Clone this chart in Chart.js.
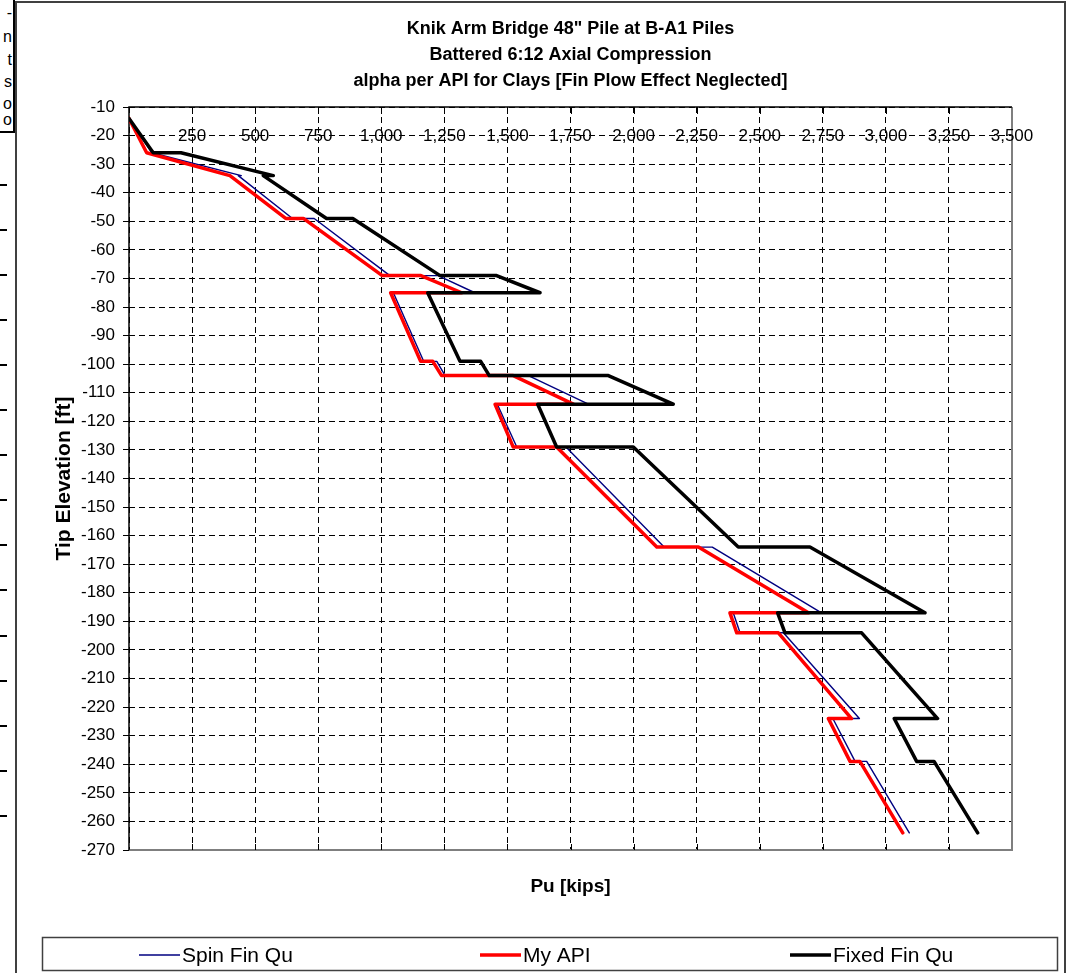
<!DOCTYPE html>
<html>
<head>
<meta charset="utf-8">
<title>Knik Arm Bridge 48" Pile at B-A1 Piles</title>
<script src="https://cdn.jsdelivr.net/npm/chart.js@4.4.1/dist/chart.umd.min.js"></script>
<style>
  html, body { margin: 0; padding: 0; background: #fff; width: 1074px; height: 973px; overflow: hidden; }
  body { position: relative; font-family: "Liberation Sans", Arial, sans-serif; }
  #frame { position: absolute; left: 15px; top: 1px; width: 1047px; height: 1000px; border: 2px solid #404040; }
  #side { position: absolute; left: -10px; top: -10px; width: 21px; height: 139px; border: 2px solid #000; }
  .sideTxt { position: absolute; left: 0; width: 12px; font-size: 16px; line-height: 16px; color: #000; text-align: right; }
  .sideTick { position: absolute; left: 0; width: 7px; height: 2px; background: #000; }
  canvas { position: absolute; left: 0; top: 0; }
</style>
</head>
<body>
<div id="frame"></div>
<div id="side"></div>
<div id="sideMarks"></div>
<canvas id="c" width="1074" height="973"></canvas>
<script>
// Pile capacity vs. tip elevation
const xTicks = [0, 250, 500, 750, 1000, 1250, 1500, 1750, 2000, 2250, 2500, 2750, 3000, 3250, 3500];
const yTicks = [-10, -20, -30, -40, -50, -60, -70, -80, -90, -100, -110, -120, -130, -140, -150, -160, -170, -180, -190, -200, -210, -220, -230, -240, -250, -260, -270];

const spinX = [0, 90, 445, 433, 648, 734, 1034, 1225, 1371, 1048, 1168, 1220, 1253, 1583, 1821, 1460, 1537, 1732, 2121, 2312, 2745, 2395, 2422, 2594, 2895, 2790, 2878, 2924, 3093];
const spinY = [-14, -26, -34, -34, -49, -49, -69, -69, -75, -75, -99, -99, -104, -104, -114, -114, -129, -129, -164, -164, -187, -187, -194, -194, -224, -224, -239, -239, -264];

const apiX = [0, 70, 400, 621, 691, 1004, 1157, 1319, 1037, 1156, 1204, 1239, 1523, 1761, 1451, 1523, 1695, 2092, 2257, 2693, 2382, 2409, 2574, 2864, 2772, 2858, 2897, 3067];
const apiY = [-14, -26, -34, -49, -49, -69, -69, -75, -75, -99, -99, -104, -104, -114, -114, -129, -129, -164, -164, -187, -187, -194, -194, -224, -224, -239, -239, -264];

const fixedX = [0, 96, 206, 572, 532, 783, 887, 1233, 1457, 1629, 1184, 1312, 1394, 1428, 1900, 2157, 1620, 1695, 1999, 2415, 2699, 3155, 2571, 2600, 2904, 3205, 3033, 3122, 3191, 3364];
const fixedY = [-14, -26, -26, -34, -34, -49, -49, -69, -69, -75, -75, -99, -99, -104, -104, -114, -114, -129, -129, -164, -164, -187, -187, -194, -194, -224, -224, -239, -239, -264];

const seriesNames = ['Spin Fin Qu', 'My API', 'Fixed Fin Qu'];
const titleLines = ['Knik Arm Bridge 48" Pile at B-A1 Piles', 'Battered 6:12 Axial Compression', 'alpha per API for Clays [Fin Plow Effect Neglected]'];
const xTitle = 'Pu [kips]';
const yTitle = 'Tip Elevation [ft]';

// fragments of the neighbouring panel on the left edge
const sideLetters = ['-', 'n', 't', 's', 'o', 'o'];

const FONT = '"Liberation Sans", Arial, sans-serif';

(function buildSide() {
  const holder = document.getElementById('sideMarks');
  const tops = [5, 29, 52, 74, 96, 112];
  sideLetters.forEach((ch, i) => {
    const d = document.createElement('div');
    d.className = 'sideTxt';
    d.style.top = tops[i] + 'px';
    d.textContent = ch;
    holder.appendChild(d);
  });
  for (let k = 0; k < 15; k++) {
    const t = document.createElement('div');
    t.className = 'sideTick';
    t.style.top = (184 + 45.05 * k) + 'px';
    holder.appendChild(t);
  }
})();

const pts = (xs, ys) => xs.map((x, i) => ({ x: x, y: ys[i] }));

const fmt = v => v.toLocaleString('en-US');

const decor = {
  id: 'decor',
  beforeDatasetsDraw(chart) {
    const { ctx, chartArea: a, scales: { x } } = chart;
    ctx.save();
    // plot area frame (right and bottom)
    ctx.strokeStyle = '#7f7f7f';
    ctx.lineWidth = 2;
    ctx.beginPath();
    ctx.moveTo(a.left, a.bottom);
    ctx.lineTo(a.right, a.bottom);
    ctx.lineTo(a.right, a.top);
    ctx.stroke();
    // axis lines, top and left
    ctx.strokeStyle = '#000';
    ctx.lineWidth = 1.5;
    ctx.beginPath();
    ctx.moveTo(a.left, a.bottom);
    ctx.lineTo(a.left, a.top);
    ctx.lineTo(a.right, a.top);
    ctx.stroke();
    // inner tick marks on the horizontal axis, top and bottom
    ctx.lineWidth = 1;
    ctx.beginPath();
    x.ticks.forEach(t => {
      if (t.value <= 0 || t.value >= 3500) return;
      const px = Math.round(x.getPixelForValue(t.value)) + 0.5;
      ctx.moveTo(px, a.top);
      ctx.lineTo(px, a.top + 7);
      ctx.moveTo(px, a.bottom);
      ctx.lineTo(px, a.bottom - 6);
    });
    ctx.stroke();
    ctx.restore();
  },
  afterDraw(chart) {
    const { ctx, chartArea: a, scales: { x } } = chart;
    ctx.save();
    ctx.fillStyle = '#000';

    // horizontal axis labels
    ctx.font = '17px ' + FONT;
    ctx.textAlign = 'center';
    ctx.textBaseline = 'alphabetic';
    x.ticks.forEach(t => {
      if (t.value <= 0) return;
      ctx.fillText(fmt(t.value), x.getPixelForValue(t.value), 141);
    });

    // chart title
    const cx = (a.left + a.right) / 2;
    ctx.font = 'bold 18px ' + FONT;
    titleLines.forEach((s, i) => ctx.fillText(s, cx, 34 + i * 26));

    // axis titles
    ctx.font = 'bold 19px ' + FONT;
    ctx.fillText(xTitle, cx, 892);
    ctx.save();
    ctx.font = 'bold 21px ' + FONT;
    ctx.translate(70, (a.top + a.bottom) / 2);
    ctx.rotate(-Math.PI / 2);
    ctx.fillText(yTitle, 0, 0);
    ctx.restore();

    // legend
    const L = { left: 42, top: 937, right: 1057, bottom: 970 };
    ctx.strokeStyle = '#404040';
    ctx.lineWidth = 1.5;
    ctx.strokeRect(L.left + 0.5, L.top + 0.5, L.right - L.left, L.bottom - L.top);
    const sx = [139, 480, 790];
    const ly = 955;
    ctx.font = '21px ' + FONT;
    ctx.textAlign = 'left';
    ctx.textBaseline = 'middle';
    chart.data.datasets.forEach((ds, i) => {
      ctx.strokeStyle = ds.borderColor;
      ctx.lineWidth = i === 0 ? 1.5 : 3.5;
      ctx.beginPath();
      ctx.moveTo(sx[i], ly);
      ctx.lineTo(sx[i] + 41, ly);
      ctx.stroke();
      ctx.fillText(ds.label, sx[i] + 43, ly + 1);
    });
    ctx.restore();
  }
};

new Chart(document.getElementById('c'), {
  type: 'scatter',
  data: {
    datasets: [
      { label: seriesNames[0], data: pts(spinX, spinY), showLine: true, borderColor: '#000080', backgroundColor: '#000080', borderWidth: 1.4, pointRadius: 0, order: 2 },
      { label: seriesNames[1], data: pts(apiX, apiY), showLine: true, borderColor: '#ff0000', backgroundColor: '#ff0000', borderWidth: 3.5, pointRadius: 0, order: 1 },
      { label: seriesNames[2], data: pts(fixedX, fixedY), showLine: true, borderColor: '#000000', backgroundColor: '#000000', borderWidth: 3.5, pointRadius: 0, order: 0 }
    ]
  },
  options: {
    responsive: false,
    animation: false,
    devicePixelRatio: 1,
    layout: { padding: { left: 0, top: 0, right: 62, bottom: 123 } },
    elements: { line: { tension: 0, borderJoinStyle: 'round', borderCapStyle: 'round' } },
    plugins: { legend: { display: false }, title: { display: false }, tooltip: { enabled: false } },
    scales: {
      x: {
        type: 'linear', position: 'top',
        min: xTicks[0], max: xTicks[xTicks.length - 1],
        afterBuildTicks: s => { s.ticks = xTicks.map(v => ({ value: v })); },
        ticks: { display: false },
        grid: { color: '#000', lineWidth: 1, drawTicks: false },
        border: { display: false, dash: [6, 4] },
        afterFit: s => { s.height = 107; }
      },
      y: {
        type: 'linear', position: 'left',
        min: yTicks[yTicks.length - 1], max: yTicks[0],
        afterBuildTicks: s => { s.ticks = yTicks.slice().reverse().map(v => ({ value: v })); },
        ticks: { color: '#000', font: { family: FONT, size: 17 }, padding: 8, autoSkip: false },
        grid: { color: '#000', lineWidth: 1, tickLength: 6, tickColor: '#000', tickBorderDash: [] },
        border: { display: false, dash: [6, 4] },
        afterFit: s => { s.width = 129; }
      }
    }
  },
  plugins: [decor]
});
</script>
</body>
</html>
